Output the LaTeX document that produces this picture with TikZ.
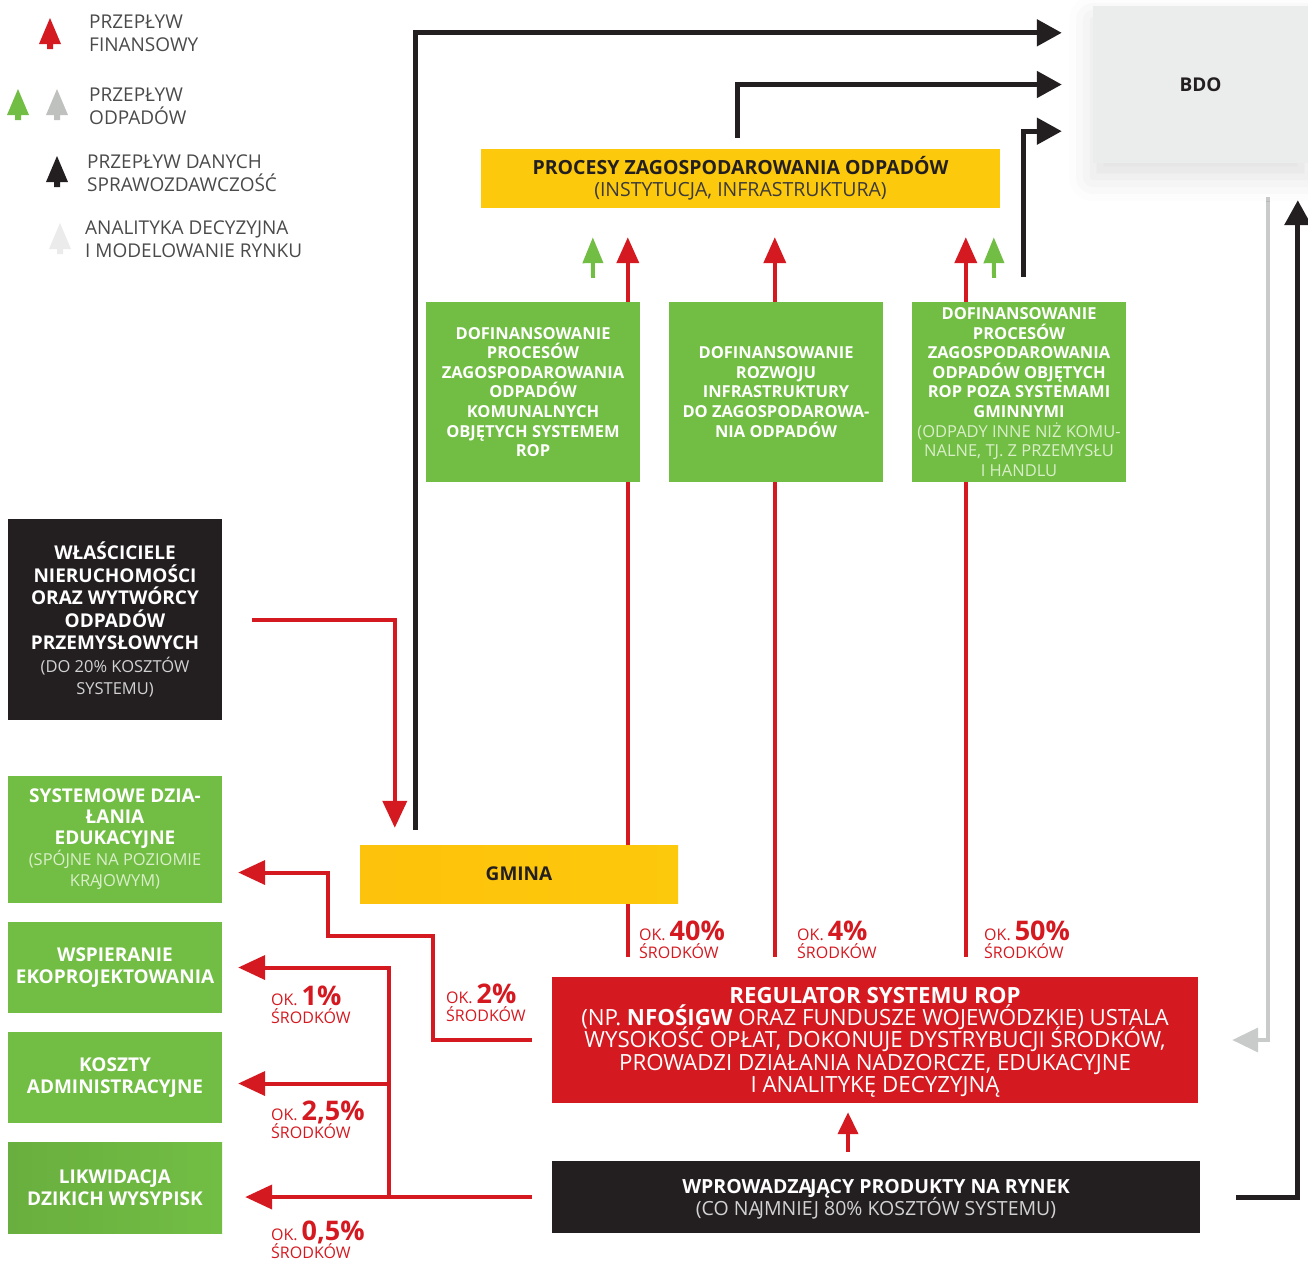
\documentclass[tikz,border=0pt]{standalone}
\usepackage{fontspec}
\setmainfont{Open Sans}
\usetikzlibrary{arrows.meta,shadows.blur}

\definecolor{ropred}{HTML}{D51920}
\definecolor{ropgreen}{HTML}{72BE44}
\definecolor{ropyellow}{HTML}{FDC90C}
\definecolor{ropblack}{HTML}{231F20}
\definecolor{ropgray}{HTML}{C9CBCA}
\definecolor{icongray}{HTML}{BFC1BE}
\definecolor{bdofill}{HTML}{EBEDEC}
\definecolor{legtext}{HTML}{4A4A4A}
\definecolor{palegreen}{HTML}{D9EEC9}
\definecolor{palegray}{HTML}{D2D2D2}
\definecolor{procsub}{HTML}{3C3A3A}

\pgfdeclarelayer{back}
\pgfsetlayers{back,main}

\newcommand{\tightlines}{\lineskiplimit=-50pt\relax}
\newcommand{\topstrut}{\rule{0pt}{0.93em}}
\newcommand{\subsize}{\fontsize{16.5}{22}\selectfont}
\newcommand{\subtxt}[2][palegray]{{\mdseries\color{#1}#2}}
% legend icon: colour, apex x, apex y
\newcommand{\legicon}[3]{%
  \fill[#1] (#2,#3) -- (#2+11,#3+26) -- (#2+3,#3+26) -- (#2+3,#3+31)
    -- (#2-3,#3+31) -- (#2-3,#3+26) -- (#2-11,#3+26) -- cycle;}
% share label: name, x, baseline y, value
\newcommand{\pctlabel}[4]{%
  \node[pcttop] (#1) at (#2,#3) {\fontsize{16}{18}\selectfont OK.\kern4pt{\fontsize{27}{27}\selectfont\bfseries #4}};
  \node[pcttop,font=\fontsize{16}{18}\selectfont] (#1s) at ([yshift=-18pt]#1.base west) {ŚRODKÓW};}

\tikzset{
  box/.style={rectangle, inner sep=0pt, align=center, text=white},
  greenbox/.style={box, fill=ropgreen, minimum width=214pt, minimum height=180pt,
    font=\fontsize{16.5}{19.6}\selectfont\bfseries\tightlines},
  leftbox/.style={box, minimum width=214pt,
    font=\fontsize{19}{22.5}\selectfont\bfseries\tightlines},
  legend/.style={anchor=west, inner sep=0pt, align=left, text=legtext,
    font=\fontsize{19}{23}\selectfont},
  pcttop/.style={anchor=base west, inner sep=0pt, text=ropred},
  redup/.style={draw=ropred, line width=4pt, -{Triangle[width=22pt,length=26pt]}},
  greenup/.style={draw=ropgreen, line width=4pt, -{Triangle[width=20pt,length=26pt]}},
  redleft/.style={draw=ropred, line width=4pt, -{Triangle[width=24pt,length=27pt]}},
  redsmall/.style={draw=ropred, line width=4pt, -{Triangle[width=20pt,length=22pt]}},
  blackto/.style={draw=ropblack, line width=5pt, -{Triangle[width=26pt,length=25pt]}},
  grayleft/.style={draw=ropgray, line width=4pt, -{Triangle[width=24pt,length=26pt]}},
}

\begin{document}
\begin{tikzpicture}[x=1pt,y=-1pt]
  \useasboundingbox (0,0) rectangle (1308,1262);

  % legend
  \legicon{ropred}{50}{18}
  \legicon{ropgreen}{18}{89}
  \legicon{icongray}{57}{89}
  \legicon{ropblack}{57}{156}
  \legicon{black!8}{60}{223}
  \node[legend] (legfin) at (89,33.5) {PRZEPŁYW\\FINANSOWY};
  \node[legend] (legwaste) at (89,106.5) {PRZEPŁYW\\ODPADÓW};
  \node[legend] (legdata) at (87,173) {PRZEPŁYW DANYCH\\SPRAWOZDAWCZOŚĆ};
  \node[legend] (legmarket) at (85,239.5) {ANALITYKA DECYZYJNA\\I MODELOWANIE RYNKU};

  % boxes
  \node[box, fill=bdofill, text=ropblack, minimum width=215pt, minimum height=157pt,
    font=\fontsize{19}{22}\selectfont\bfseries,
    blur shadow={shadow xshift=0pt, shadow yshift=-14pt, shadow blur radius=24pt, shadow opacity=12}]
    (bdo) at (1200.5,84.5) {BDO};
  \node[box, fill=ropyellow, text=ropblack, minimum width=519pt, minimum height=59pt,
    font=\fontsize{19.5}{22}\selectfont\tightlines]
    (proc) at (740.5,178.5) {\textbf{PROCESY ZAGOSPODAROWANIA ODPADÓW}\\{\color{procsub}(INSTYTUCJA, INFRASTRUKTURA)}};
  \node[greenbox] (dofA) at (533,392) {DOFINANSOWANIE\\PROCESÓW\\ZAGOSPODAROWANIA\\ODPADÓW\\KOMUNALNYCH\\OBJĘTYCH SYSTEMEM\\ROP};
  \node[greenbox] (dofB) at (776,392) {DOFINANSOWANIE\\ROZWOJU\\INFRASTRUKTURY\\DO ZAGOSPODAROWA-\\NIA ODPADÓW};
  \node[greenbox] (dofC) at (1019,392) {DOFINANSOWANIE\\PROCESÓW\\ZAGOSPODAROWANIA\\ODPADÓW OBJĘTYCH\\ROP POZA SYSTEMAMI\\GMINNYMI\\
    \subtxt[palegreen]{(ODPADY INNE NIŻ KOMU-}\\\subtxt[palegreen]{NALNE, TJ. Z PRZEMYSŁU}\\\subtxt[palegreen]{I HANDLU}};
  \node[leftbox, fill=ropblack, minimum height=201pt] (owners) at (115,619.5)
    {WŁAŚCICIELE\\NIERUCHOMOŚCI\\ORAZ WYTWÓRCY\\ODPADÓW\\PRZEMYSŁOWYCH\\
    \subtxt{\subsize (DO 20\% KOSZTÓW}\\\subtxt{\subsize SYSTEMU)}};
  \node[leftbox, fill=ropgreen, minimum height=127pt, font=\fontsize{19}{21}\selectfont\bfseries\tightlines] (edu) at (115,839.5)
    {SYSTEMOWE DZIA-\\ŁANIA\\EDUKACYJNE\\\subtxt[palegreen]{\subsize (SPÓJNE NA POZIOMIE}\\\subtxt[palegreen]{\subsize KRA\kern-2pt JOWYM)}};
  \node[leftbox, fill=ropgreen, minimum height=91pt] (eco) at (115,967.5) {WSPIERANIE\\EKOPROJEKTOWANIA};
  \node[leftbox, fill=ropgreen, minimum height=91pt] (admin) at (115,1077.5) {KOSZTY\\ADMINISTRACYJNE};
  \node[leftbox, left color=ropgreen!92!black, right color=ropgreen, minimum height=91pt] (dumps) at (115,1187.5) {LIKWIDACJA\\DZIKICH WYSYPISK};
  \node[box, left color=ropyellow!90!orange, right color=ropyellow, text=ropblack, minimum width=318pt, minimum height=58pt,
    font=\fontsize{19}{22}\selectfont\bfseries] (gmina) at (519,874) {GMINA};
  \node[box, fill=ropred, minimum width=646pt, minimum height=126pt,
    font=\fontsize{22.3}{22.3}\selectfont\tightlines] (reg) at (875,1040)
    {\topstrut\textbf{REGULATOR SYSTEMU ROP}\\(NP. \textbf{NFOŚIGW} ORAZ FUNDUSZE WOJEWÓDZKIE) USTALA\\WYSOKOŚĆ OPŁAT, DOKONUJE DYSTRYBUCJI ŚRODKÓW,\\PROWADZI DZIAŁANIA NADZORCZE, EDUKACYJNE\\I ANALITYKĘ DECYZYJNĄ};
  \node[box, fill=ropblack, minimum width=648pt, minimum height=72pt,
    font=\fontsize{19.5}{22}\selectfont\tightlines] (prod) at (876,1197)
    {\topstrut\textbf{WPROWADZA\kern-2pt JĄCY PRODUKTY NA RYNEK}\\\subtxt{(CO NA\kern-2pt JMNIEJ 80\% KOSZTÓW SYSTEMU)}};

  % shares
  \pctlabel{p40}{639}{940}{40\%}
  \pctlabel{p4}{797}{940}{4\%}
  \pctlabel{p50}{984}{940}{50\%}
  \pctlabel{p2}{446}{1003}{2\%}
  \pctlabel{p1}{271}{1005}{1\%}
  \pctlabel{p25}{271}{1120}{2,5\%}
  \pctlabel{p05}{271}{1240}{0,5\%}

  \coordinate (edA) at (433,936);
  \coordinate (edB) at (328,936);
  \coordinate (split) at ([xshift=-163pt]prod.west);

  \begin{pgfonlayer}{back}
    \draw[redup] ([xshift=76pt,yshift=20pt]reg.north west) -- ([xshift=147pt,yshift=-29pt]proc.south west);
    \draw[redup] ([xshift=223pt,yshift=20pt]reg.north west) -- ([xshift=294pt,yshift=-29pt]proc.south west);
    \draw[redup] ([xshift=414pt,yshift=20pt]reg.north west) -- ([xshift=485pt,yshift=-29pt]proc.south west);
    \draw[greenup] ([xshift=60pt,yshift=24pt]dofA.north) -- ([xshift=112pt,yshift=-29pt]proc.south west);
    \draw[greenup] ([xshift=-25pt,yshift=24pt]dofC.north) -- ([xshift=513pt,yshift=-29pt]proc.south west);

    \draw[blackto] ([xshift=56pt,yshift=15pt]gmina.north west) |- ([xshift=-31pt,yshift=-27pt]bdo.north west);
    \draw[blackto] ([xshift=-3.5pt,yshift=11pt]proc.north) |- ([xshift=-31pt]bdo.west);
    \draw[blackto] ([xshift=4pt,yshift=25pt]dofC.north) |- ([xshift=-31pt,yshift=32pt]bdo.south west);
    \draw[blackto] ([xshift=36pt]prod.east) -| ([xshift=205pt,yshift=-37pt]bdo.south west);
    \draw[grayleft] ([xshift=175pt,yshift=-34pt]bdo.south west) |- ([xshift=34pt]reg.east);

    \draw[redleft] ([xshift=30pt]owners.east) -| ([xshift=35pt,yshift=17pt]gmina.north west);
    \draw[redleft] ([xshift=-20pt]reg.west) -| (edA) -- (edB) |- ([xshift=16pt,yshift=-33pt]edu.east);
    \draw[redleft] ([xshift=-20pt]prod.west) -- ([xshift=23pt]dumps.east |- prod.west);
    \draw[redleft] (split) |- ([xshift=16pt]eco.east);
    \draw[redleft] (split) |- ([xshift=16pt,yshift=-6pt]admin.east);
    \draw[redsmall] ([xshift=-28pt,yshift=9pt]prod.north) -- ([xshift=-27pt,yshift=-9pt]reg.south);
  \end{pgfonlayer}
\end{tikzpicture}
\end{document}
